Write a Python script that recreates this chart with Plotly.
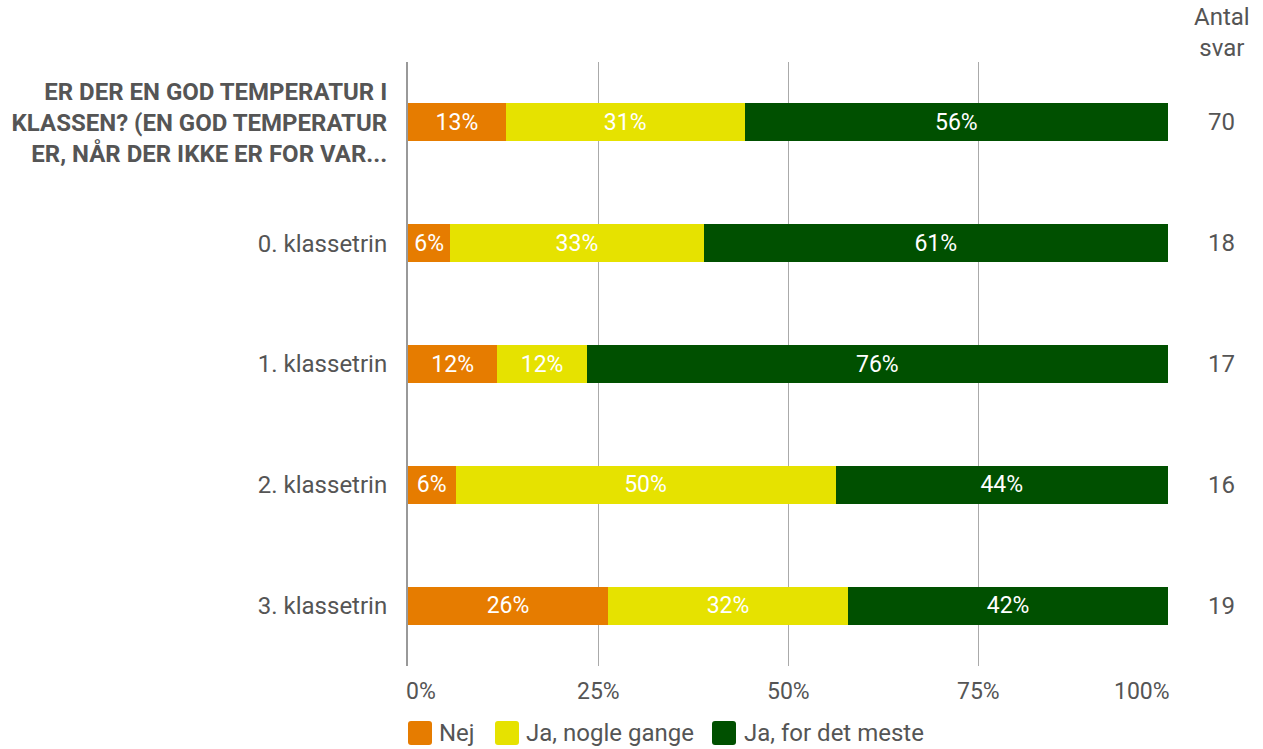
import plotly.graph_objects as go

categories = [
    "<b>ER DER EN GOD TEMPERATUR I<br>KLASSEN? (EN GOD TEMPERATUR<br>ER, NÅR DER IKKE ER FOR VAR...</b>",
    "0. klassetrin",
    "1. klassetrin",
    "2. klassetrin",
    "3. klassetrin",
]
nej = [12.86, 5.56, 11.76, 6.25, 26.32]
ja_nogle = [31.43, 33.33, 11.76, 50.0, 31.58]
ja_meste = [55.71, 61.11, 76.47, 43.75, 42.11]
antal = [70, 18, 17, 16, 19]
antal_header = "Antal<br>svar"
tick_vals = [0, 25, 50, 75, 100]
tick_text = ["0%", "25%", "50%", "75%", "100%"]
series_names = ["Nej", "Ja, nogle gange", "Ja, for det meste"]
series_colors = ["#E67C00", "#E6E200", "#005000"]
series_values = [nej, ja_nogle, ja_meste]

FONT = "Roboto"
GREY = "#555555"

fig = go.Figure()
for name, vals, col in zip(series_names, series_values, series_colors):
    fig.add_trace(go.Bar(
        y=categories, x=vals, name=name, orientation="h",
        marker=dict(color=col, line=dict(width=0)),
        texttemplate="%{x:.0f}%", textposition="inside",
        insidetextanchor="middle", constraintext="none",
        textfont=dict(color="white", size=23, family=FONT),
        hoverinfo="skip", showlegend=False,
    ))

# counts column
for cat, n in zip(categories, antal):
    fig.add_annotation(x=1.071, xref="paper", y=cat, yref="y", text=str(n),
                       xanchor="center", yanchor="middle",
                       showarrow=False, font=dict(size=24, color=GREY, family=FONT))

fig.add_annotation(x=1.071, xref="paper", y=1.049, yref="paper", text=antal_header,
                   xanchor="center", yanchor="middle",
                   showarrow=False, font=dict(size=24, color=GREY, family=FONT))

# x tick labels (edge labels aligned inward like the reference)
for v, t in zip(tick_vals, tick_text):
    if v == tick_vals[0]:
        xa, xs = "left", -4
    elif v == tick_vals[-1]:
        xa, xs = "right", 4
    else:
        xa, xs = "center", 0
    fig.add_annotation(x=v, xref="x", y=0, yref="paper", yshift=-25, xshift=xs,
                       text=t, xanchor=xa, yanchor="middle", showarrow=False,
                       font=dict(size=23, color=GREY, family=FONT))

# custom legend with large rounded swatches
sw_left = [0, 87, 304]
txt_left = [29, 116, 334]
sw_size, r = 24, 3
y_top, y_bot = -55, -79
for name, col, x0, tx in zip(series_names, series_colors, sw_left, txt_left):
    x1 = x0 + sw_size
    path = (f"M{x0+r},{y_top} L{x1-r},{y_top} Q{x1},{y_top} {x1},{y_top-r} "
            f"L{x1},{y_bot+r} Q{x1},{y_bot} {x1-r},{y_bot} L{x0+r},{y_bot} "
            f"Q{x0},{y_bot} {x0},{y_bot+r} L{x0},{y_top-r} Q{x0},{y_top} {x0+r},{y_top} Z")
    fig.add_shape(type="path", xref="paper", yref="paper", xsizemode="pixel",
                  ysizemode="pixel", xanchor=0, yanchor=0, path=path,
                  fillcolor=col, line=dict(width=0))
    fig.add_annotation(x=0, xref="paper", xshift=tx, y=0, yref="paper", yshift=-67,
                       text=name, xanchor="left", yanchor="middle", showarrow=False,
                       font=dict(size=24, color=GREY, family=FONT))

fig.update_layout(
    barmode="stack",
    bargap=0.685,
    width=1263, height=749,
    margin=dict(l=408, r=95, t=62, b=83, autoexpand=False),
    paper_bgcolor="white", plot_bgcolor="white",
    font=dict(family=FONT, size=24, color=GREY),
    xaxis=dict(range=[0, 100], tickvals=tick_vals, showticklabels=False,
               showgrid=True, gridcolor="#AAAAAA", gridwidth=1, zeroline=False,
               showline=False, automargin=False, fixedrange=True),
    yaxis=dict(autorange="reversed", showgrid=False, showline=True,
               linecolor="#999999", linewidth=2, ticks="", ticklabelstandoff=14,
               automargin=False, fixedrange=True, tickfont=dict(size=24, color=GREY)),
    showlegend=False,
)

fig.write_html(
    "out.html",
    config={"displayModeBar": False, "staticPlot": True},
    post_script="document.body.style.margin='0';document.body.style.overflow='hidden';",
)
